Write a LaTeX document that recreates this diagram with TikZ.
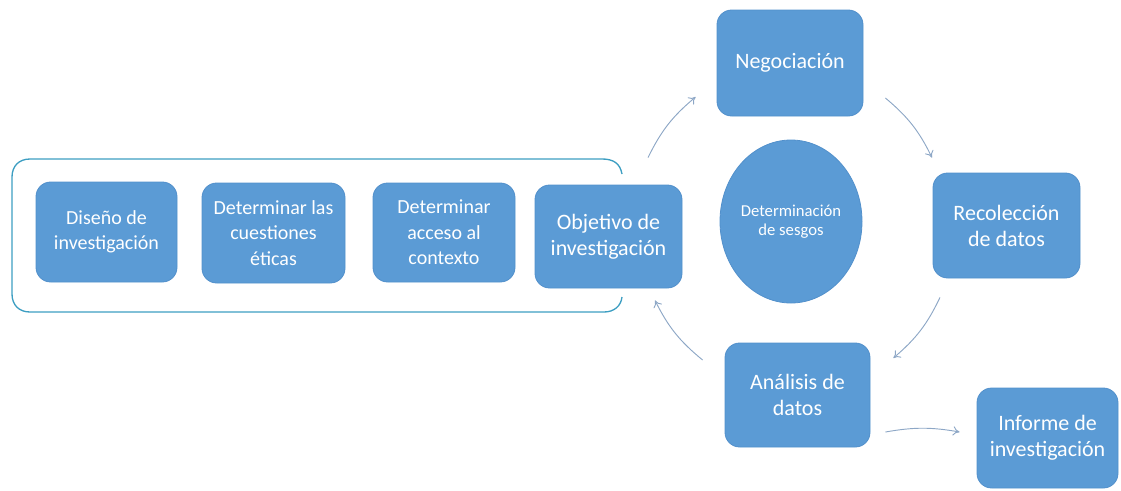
\documentclass[tikz,border=0pt]{standalone}
\usepackage{fontspec}
\setmainfont{Carlito}
\usetikzlibrary{arrows.meta,shapes.geometric}
\definecolor{boxblue}{HTML}{5B9BD5}
\definecolor{boxedge}{HTML}{5290CB}
\definecolor{flowgrey}{HTML}{8DA7C6}
\definecolor{groupteal}{HTML}{3D9EC2}
\begin{document}
\begin{tikzpicture}[x=0.75pt,y=-0.75pt,
  box/.style={draw=boxedge, line width=0.6pt, fill=boxblue, rounded corners=11pt,
    text=white, align=center, inner sep=2pt},
  big/.style={font=\fontsize{16.5}{19.5}\selectfont},
  small/.style={font=\fontsize{15}{19}\selectfont},
  flow/.style={draw=flowgrey, line width=0.7pt, -{To[length=5pt,width=7pt]}},
  group/.style={draw=groupteal, line width=1pt}]
\useasboundingbox (0,0) rectangle (1121,490);

% preparation steps inside the bracket
\node[box, small, minimum width=105.75pt, minimum height=75pt] (dis) at (106.5,232)
  {Diseño de\\investigación};
\node[box, small, minimum width=107.25pt, minimum height=75pt] (eti) at (273.5,233)
  {Determinar las\\cuestiones\\éticas};
\node[box, small, minimum width=106.5pt, minimum height=74.25pt] (acc) at (444,232.5)
  {Determinar\\acceso al\\contexto};
\node[box, big, minimum width=110.25pt, minimum height=77.25pt] (obj) at (608.5,236.5)
  {Objetivo de\\investigación};

% research cycle
\node[box, big, minimum width=109.5pt, minimum height=79.5pt] (neg) at (790,63)
  {Negociación};
\node[draw=boxedge, line width=0.6pt, fill=boxblue, ellipse, text=white, align=center,
  minimum width=106.5pt, minimum height=122.25pt, inner sep=0pt,
  font=\fontsize{12.5}{14}\selectfont] (ses) at (791,221.5)
  {Determinación\\de sesgos};
\node[box, big, minimum width=110.25pt, minimum height=78.75pt] (rec) at (1006.5,225.5)
  {Recolección\\de datos};
\node[box, big, minimum width=108.75pt, minimum height=78pt] (ana) at (797.5,395)
  {Análisis de\\datos};
\node[box, big, minimum width=105.75pt, minimum height=75pt] (inf) at (1047.5,438)
  {Informe de\\investigación};

% bracket around the preparation steps
\draw[group] (622,174) .. controls (620,163) and (613,159) .. (602,159)
  -- (30,159) .. controls (19,159) and (12,166) .. (12,177)
  -- (12,294) .. controls (12,305) and (19,312) .. (30,312)
  -- (604,312) .. controls (614,312) and (621,306) .. (622,297);

% cycle arrows
\draw[flow] ([shift={(39.5,-27)}]obj.north) to[bend left=12] ([shift={(-21,34)}]neg.west);
\draw[flow] ([shift={(22,35)}]neg.east) to[bend left=12] ([shift={(-74.5,-15)}]rec.north);
\draw[flow] ([shift={(-66.5,19)}]rec.south) to[bend left=12] ([shift={(23,-37)}]ana.east);
\draw[flow] ([shift={(-22,-35)}]ana.west) to[bend left=12] ([shift={(46.5,12)}]obj.south);
\draw[flow] ([shift={(15,37)}]ana.east) to[bend left=10] ([shift={(-17,-6)}]inf.west);
\end{tikzpicture}
\end{document}
